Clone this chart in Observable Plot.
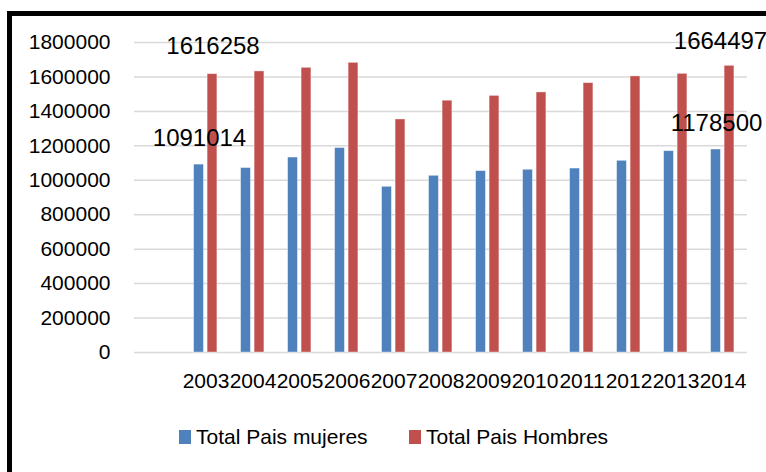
<!DOCTYPE html>
<html>
<head>
<meta charset="utf-8">
<script src="https://cdn.jsdelivr.net/npm/d3@7"></script>
<script src="https://cdn.jsdelivr.net/npm/@observablehq/plot@0.6"></script>
<style>
  html, body { margin: 0; padding: 0; background: #fff; overflow: hidden; width: 766px; height: 472px; }
  #frame { position: absolute; left: 7px; top: 11px; width: 820px; height: 520px; border: 5px solid #000; box-sizing: border-box; }
  #chart { position: absolute; left: 0; top: 0; }
  .item { position: absolute; top: 426px; display: flex; align-items: center; font-family: "Liberation Sans", Arial, sans-serif; font-size: 21px; line-height: 22px; color: #000; white-space: nowrap; }
  .sw { display: inline-block; width: 12px; height: 14px; margin-right: 5px; }
</style>
</head>
<body>
<div id="frame"></div>
<div id="chart"></div>
<div class="item" style="left:179px"><span class="sw" style="background:#4F81BD"></span>Total Pais mujeres</div>
<div class="item" style="left:409px"><span class="sw" style="background:#C0504D"></span>Total Pais Hombres</div>
<script>
const years = ["2003","2004","2005","2006","2007","2008","2009","2010","2011","2012","2013","2014"];
const mujeres = [1091014, 1071000, 1132000, 1187000, 962000, 1026000, 1053000, 1061000, 1068000, 1113000, 1169000, 1178500];
const hombres = [1616258, 1632000, 1653000, 1682000, 1353000, 1462000, 1490000, 1510000, 1564000, 1603000, 1618000, 1664497];
const yTicks = [0, 200000, 400000, 600000, 800000, 1000000, 1200000, 1400000, 1600000, 1800000];
const seriesNames = ["Total Pais mujeres", "Total Pais Hombres"];
const colors = ["#4F81BD", "#C0504D"];
const labelYears = ["2003", "2014"];

const table = years.map((y, i) => ({year: y, mujeres: mujeres[i], hombres: hombres[i]}));
const labeled = table.filter(d => labelYears.includes(d.year));

const chart = Plot.plot({
  width: 766,
  height: 400,
  marginLeft: 134,
  marginRight: 19,
  marginTop: 42,
  marginBottom: 48,
  style: {fontFamily: "Liberation Sans, Arial, sans-serif", fontSize: "21px", color: "#000", background: "transparent", overflow: "visible"},
  x: {domain: ["", ...years], padding: 0, label: null, tickSize: 0, tickPadding: 21},
  y: {domain: [0, 1800000], ticks: yTicks, tickFormat: d3.format("d"), label: null, tickSize: 0, tickPadding: 24},
  marks: [
    Plot.gridY(yTicks, {stroke: "#d9d9d9", strokeOpacity: 1, strokeWidth: 1.5}),
    Plot.barY(table, {x: "year", y: "mujeres", fill: colors[0], insetLeft: 11.6, insetRight: 25.6, stroke: "#ffffff", strokeOpacity: 0.5, strokeWidth: 0.75}),
    Plot.barY(table, {x: "year", y: "hombres", fill: colors[1], insetLeft: 25.1, insetRight: 12.1, stroke: "#ffffff", strokeOpacity: 0.5, strokeWidth: 0.75}),
    Plot.text(labeled, {x: "year", y: "mujeres", text: d => String(d.mujeres), dx: -6.5, dy: -26, fontSize: 24, fill: "#000"}),
    Plot.text(labeled.filter(d => d.year === labelYears[0]), {x: "year", y: "hombres", text: d => String(d.hombres), dx: 7, dy: -28, fontSize: 24, fill: "#000"}),
    Plot.text(labeled.filter(d => d.year === labelYears[1]), {x: "year", y: "hombres", text: d => String(d.hombres), dx: -2.5, dy: -25, fontSize: 24, fill: "#000"})
  ]
});
document.getElementById("chart").appendChild(chart);
</script>
</body>
</html>
